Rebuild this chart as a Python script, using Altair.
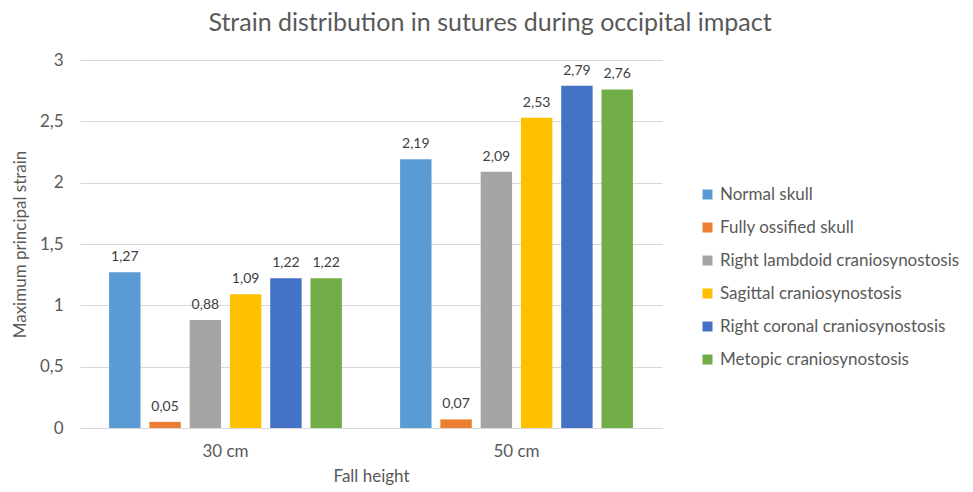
import altair as alt
import pandas as pd

heights = ["30 cm", "50 cm"]
series = ["Normal skull", "Fully ossified skull", "Right lambdoid craniosynostosis",
          "Sagittal craniosynostosis", "Right coronal craniosynostosis", "Metopic craniosynostosis"]
values_30 = [1.27, 0.05, 0.88, 1.09, 1.22, 1.22]
values_50 = [2.19, 0.07, 2.09, 2.53, 2.79, 2.76]
colors = ["#5B9BD5", "#ED7D31", "#A5A5A5", "#FFC000", "#4472C4", "#70AD47"]

rows = []
for h, vals in zip(heights, [values_30, values_50]):
    for s, v in zip(series, vals):
        rows.append({"height": h, "series": s, "value": v})
df = pd.DataFrame(rows)

FONT = "Lato"
TXT = "#595959"

base = alt.Chart(df).encode(
    x=alt.X("height:N", sort=heights,
            scale=alt.Scale(paddingInner=0.2, paddingOuter=0.1),
            axis=alt.Axis(title="Fall height", labelAngle=0, ticks=False, domain=True,
                          domainColor="#D9D9D9", labelPadding=15, titlePadding=9,
                          labelFontSize=17, titleFontSize=17, labelColor=TXT, titleColor=TXT,
                          labelFont=FONT, titleFont=FONT, titleFontWeight="normal")),
    xOffset=alt.XOffset("series:N", sort=series,
                        scale=alt.Scale(paddingInner=0.22, paddingOuter=0.0)),
)

bars = base.mark_bar().encode(
    y=alt.Y("value:Q", scale=alt.Scale(domain=[0, 3]),
            axis=alt.Axis(title="Maximum principal strain", values=[0, 0.5, 1, 1.5, 2, 2.5, 3],
                          labelExpr="replace(toString(datum.value), '.', ',')",
                          domain=False, ticks=False, grid=True, gridColor="#D9D9D9",
                          labelPadding=17, titlePadding=10,
                          labelFontSize=17, titleFontSize=17, labelColor=TXT, titleColor=TXT,
                          labelFont=FONT, titleFont=FONT, titleFontWeight="normal")),
    color=alt.Color("series:N", sort=series,
                    scale=alt.Scale(domain=series, range=colors),
                    legend=alt.Legend(title=None, orient="none", legendX=619, legendY=126,
                                      symbolType="square", symbolSize=100, symbolStrokeWidth=0,
                                      labelFontSize=17, labelColor=TXT, labelFont=FONT,
                                      labelLimit=400, rowPadding=15, labelOffset=4)),
)

labels = base.transform_calculate(
    lab="replace(format(datum.value, '.2f'), '.', ',')"
).mark_text(dy=-15, baseline="middle", fontSize=14, font=FONT, color="#404040").encode(
    y=alt.Y("value:Q"),
    text="lab:N",
)

chart = (bars + labels).properties(
    width=582, height=368,
    title=alt.TitleParams("Strain distribution in sutures during occipital impact",
                          fontSize=25, font=FONT, color=TXT, fontWeight="normal",
                          anchor="middle", dx=119, offset=15),
    autosize=alt.AutoSizeParams(type="none"),
    padding={"left": 72, "top": 52, "right": 300, "bottom": 62},
).configure_view(stroke=None)

chart.save("out.html", embed_options={"renderer": "svg", "actions": False})
